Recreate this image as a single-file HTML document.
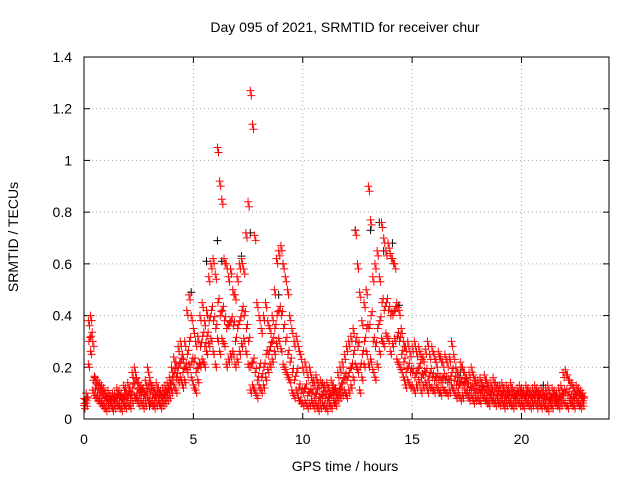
<!DOCTYPE html>
<html><head><meta charset="utf-8"><style>
body{margin:0;background:#fff}
svg{display:block;font-family:"Liberation Sans",sans-serif}
</style></head><body>
<svg id="chart" width="640" height="480" viewBox="0 0 640 480">
<rect width="640" height="480" fill="#fff"/>
<g id="grid"></g>
<g id="ticks"></g>
<g id="pts"></g>
<rect x="84" y="57" width="525" height="362" fill="none" stroke="#000" stroke-width="1"/>
<text x="345" y="32" font-size="14" text-anchor="middle">Day 095 of 2021, SRMTID for receiver chur</text>
<text x="345" y="471" font-size="14" text-anchor="middle">GPS time / hours</text>
<text x="18" y="237" font-size="14" text-anchor="middle" transform="rotate(-90 18 237)">SRMTID / TECUs</text>
</svg>
<script>
const xTicks=[0,5,10,15,20];
const yTicks=[0,0.2,0.4,0.6,0.8,1,1.2,1.4];
const yTickLabels=["0","0.2","0.4","0.6","0.8","1","1.2","1.4"];
const step=0.1;
const redHi=[.08,.1,.38,.4,.3,.16,.15,.14,.13,.12,.1,.11,.09,.1,.1,.12,.11,.1,.13,.12,.14,.12,.18,.2,.16,.14,.13,.12,.15,.2,.16,.13,.12,.14,.12,.11,.12,.13,.14,.16,.2,.24,.22,.28,.3,.25,.3,.42,.48,.4,.35,.3,.32,.4,.45,.38,.42,.55,.6,.62,.56,1.05,.92,.85,.62,.6,.55,.58,.5,.48,.55,.6,.62,.58,.72,.84,1.27,1.14,.71,.45,.4,.35,.4,.45,.38,.35,.4,.5,.62,.65,.67,.6,.55,.5,.4,.35,.3,.32,.28,.25,.2,.22,.18,.2,.16,.15,.17,.14,.15,.14,.13,.14,.12,.15,.13,.12,.18,.2,.22,.25,.28,.3,.32,.35,.73,.6,.49,.38,.45,.5,.9,.77,.55,.6,.65,.55,.76,.7,.65,.68,.64,.62,.6,.45,.42,.35,.3,.28,.3,.26,.28,.3,.26,.28,.25,.24,.27,.3,.25,.28,.25,.22,.26,.24,.22,.25,.22,.24,.3,.25,.2,.18,.22,.2,.18,.16,.18,.2,.17,.15,.15,.16,.14,.17,.15,.13,.14,.16,.14,.13,.13,.14,.12,.13,.12,.14,.12,.11,.12,.13,.12,.11,.13,.12,.11,.12,.13,.12,.11,.12,.11,.12,.13,.1,.12,.11,.1,.12,.13,.18,.19,.17,.15,.14,.12,.13,.12,.11,.1];
const redMid=[.06,.07,.3,.32,.15,.12,.1,.09,.08,.07,.07,.06,.07,.06,.07,.08,.07,.06,.08,.07,.09,.08,.12,.14,.1,.09,.1,.08,.09,.12,.1,.08,.07,.09,.08,.07,.08,.09,.1,.12,.15,.18,.16,.2,.22,.18,.2,.25,.3,.22,.22,.18,.2,.28,.32,.28,.32,.38,.42,.38,.35,.45,.4,.42,.38,.35,.36,.38,.36,.3,.35,.38,.42,.4,.35,.3,.2,.22,.18,.15,.2,.16,.2,.25,.25,.28,.3,.35,.4,.42,.4,.35,.3,.25,.22,.18,.15,.18,.12,.1,.1,.12,.09,.1,.1,.08,.1,.07,.08,.09,.08,.07,.08,.09,.1,.08,.1,.12,.14,.16,.15,.18,.2,.25,.3,.28,.2,.25,.3,.35,.35,.4,.3,.28,.35,.38,.45,.42,.45,.42,.4,.4,.42,.32,.3,.25,.22,.18,.2,.18,.18,.16,.18,.2,.16,.17,.18,.15,.18,.16,.15,.16,.15,.14,.16,.15,.14,.15,.18,.15,.13,.12,.14,.13,.14,.12,.11,.12,.1,.1,.1,.1,.11,.1,.09,.08,.1,.09,.08,.09,.08,.09,.07,.08,.09,.08,.07,.08,.09,.08,.08,.07,.09,.08,.07,.08,.09,.07,.08,.07,.07,.08,.06,.07,.08,.07,.06,.07,.08,.1,.1,.09,.08,.07,.08,.09,.08,.07,.07];
const redLo=[.04,.05,.2,.25,.1,.08,.07,.06,.05,.04,.03,.04,.05,.03,.04,.05,.04,.03,.05,.04,.05,.04,.06,.08,.07,.05,.06,.04,.05,.07,.06,.05,.04,.05,.06,.04,.05,.06,.07,.08,.1,.12,.1,.14,.15,.12,.14,.18,.2,.15,.12,.1,.14,.2,.22,.2,.25,.28,.3,.25,.2,.3,.25,.3,.28,.2,.22,.24,.25,.2,.22,.25,.28,.3,.25,.2,.1,.12,.1,.08,.12,.1,.12,.15,.18,.2,.22,.25,.28,.3,.26,.2,.18,.16,.14,.1,.08,.1,.07,.06,.05,.06,.04,.05,.06,.04,.05,.03,.04,.05,.04,.03,.05,.04,.06,.05,.07,.08,.09,.1,.08,.1,.12,.15,.2,.18,.1,.15,.2,.25,.2,.22,.18,.15,.2,.25,.3,.28,.32,.3,.25,.28,.3,.22,.2,.18,.15,.12,.14,.12,.12,.1,.12,.14,.1,.12,.13,.1,.12,.11,.1,.12,.1,.09,.11,.1,.09,.1,.12,.1,.08,.09,.07,.08,.1,.09,.07,.08,.06,.07,.07,.06,.08,.07,.06,.05,.07,.06,.05,.06,.05,.06,.04,.05,.06,.05,.04,.05,.06,.05,.05,.04,.06,.05,.04,.05,.06,.04,.05,.04,.05,.04,.03,.05,.04,.06,.05,.04,.05,.06,.05,.04,.06,.05,.04,.06,.05,.04,.05];
const blackT=[0.5,3.0,4.9,5.6,6.1,6.3,7.2,7.6,8.9,9.1,12.4,13.1,13.5,13.7,14.1,14.4,17.2,21.0];
const blackV=[0.16,0.05,0.49,0.61,0.69,0.61,0.63,0.72,0.48,0.6,0.73,0.73,0.76,0.65,0.68,0.44,0.18,0.13];
const NS="http://www.w3.org/2000/svg";
const X=v=>84+v*525/24, Y=v=>419-v*362/1.4;
const grid=document.getElementById('grid'),ticks=document.getElementById('ticks'),pts=document.getElementById('pts');
function line(p,x1,y1,x2,y2,st,dash){const l=document.createElementNS(NS,'line');l.setAttribute('x1',x1);l.setAttribute('y1',y1);l.setAttribute('x2',x2);l.setAttribute('y2',y2);l.setAttribute('stroke',st);if(dash)l.setAttribute('stroke-dasharray',dash);p.appendChild(l);return l;}
function txt(x,y,s,anchor){const t=document.createElementNS(NS,'text');t.setAttribute('x',x);t.setAttribute('y',y);t.setAttribute('font-size','14');t.setAttribute('text-anchor',anchor);t.textContent=s;ticks.appendChild(t);return t;}
xTicks.forEach(v=>{const x=X(v);
const g=line(grid,x,57,x,419,'#aaa','1,3');


line(ticks,x,419,x,413,'#000');line(ticks,x,57,x,63,'#000');
const t=txt(x,444,String(v),'middle');

});
yTicks.forEach((v,i)=>{const y=Y(v);
const g=line(grid,84,y,609,y,'#aaa','1,3');


line(ticks,84,y,90,y,'#000');line(ticks,609,y,603,y,'#000');
const t=txt(72,y+5,yTickLabels[i],'end');

});
function plus(t,v,c,dy){const x=X(t),y=Y(v)+(dy||0);const p=document.createElementNS(NS,'path');p.setAttribute('d',`M${x-4},${y}h8M${x},${y-4}v8`);p.setAttribute('stroke',c);p.setAttribute('fill','none');


pts.appendChild(p);}
blackT.forEach((t,i)=>plus(t,blackV[i],'#000'));
[[redHi,0,0],[redHi,0.05,5],[redMid,0.025,0],[redMid,0.075,-4],[redLo,0.05,0],[redLo,0.0,-3]].forEach(([arr,off,dy])=>arr.forEach((v,i)=>plus(i*step+off,v,'#f00',dy)));
</script>
</body></html>
